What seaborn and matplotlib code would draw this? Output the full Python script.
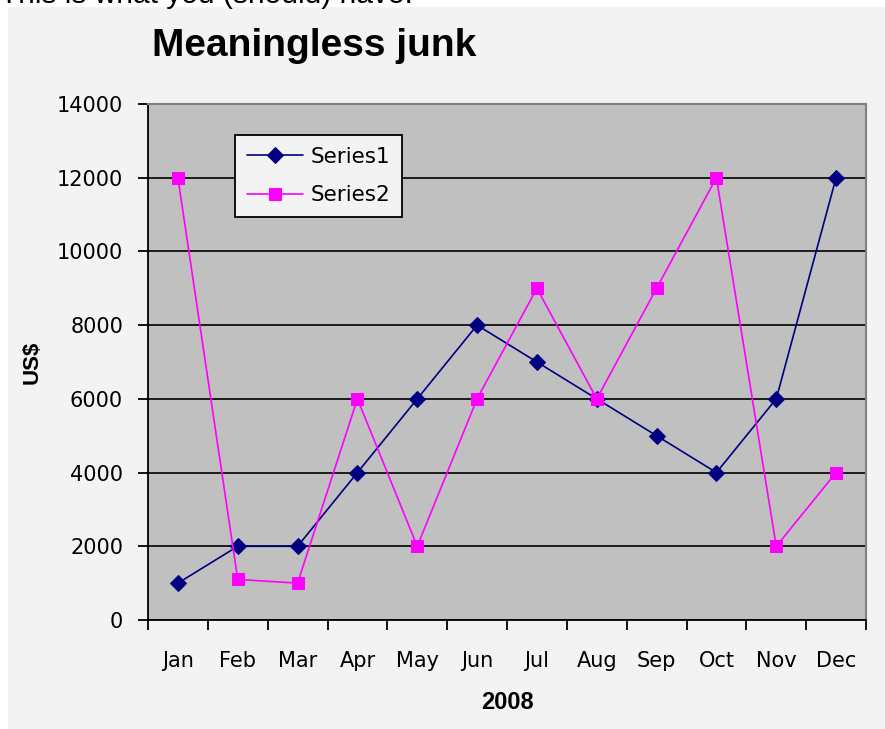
import matplotlib
matplotlib.use('Agg')
import matplotlib.pyplot as plt
import matplotlib.patches as mpatches
from matplotlib.ticker import FixedLocator, NullFormatter
import pandas as pd
import seaborn as sns

# Data
months = ['Jan', 'Feb', 'Mar', 'Apr', 'May', 'Jun', 'Jul', 'Aug', 'Sep', 'Oct', 'Nov', 'Dec']
series1 = [1000, 2000, 2000, 4000, 6000, 8000, 7000, 6000, 5000, 4000, 6000, 12000]
series2 = [12000, 1100, 1000, 6000, 2000, 6000, 9000, 6000, 9000, 12000, 2000, 4000]
yticks = [0, 2000, 4000, 6000, 8000, 10000, 12000, 14000]

df = pd.DataFrame({'month': months, 'Series1': series1, 'Series2': series2})

sns.set_style('white')
plt.rcParams['font.family'] = ['DejaVu Sans']
plt.rcParams['text.color'] = 'black'
plt.rcParams['axes.labelcolor'] = 'black'
plt.rcParams['xtick.color'] = 'black'
plt.rcParams['ytick.color'] = 'black'

W, H = 885, 729
fig = plt.figure(figsize=(W / 100, H / 100), dpi=100)
fig.patch.set_facecolor('white')

# light grey chart panel (white strip at left / top as in the screenshot)
fig.add_artist(mpatches.Rectangle((8 / W, 0), 1 - 8 / W, 1 - 7 / H, transform=fig.transFigure,
                                  facecolor='#f3f3f3', edgecolor='none', zorder=0))

# cut-off caption above the chart
fig.text(0.0, 1 - 3 / H, 'This is what you (should) have:', fontsize=21.5, va='baseline',
         ha='left', family='Liberation Sans')

ax = fig.add_axes([148 / W, 1 - 620 / H, (866 - 148) / W, (620 - 104) / H])
ax.set_facecolor('#c0c0c0')

sns.lineplot(data=df, x='month', y='Series1', ax=ax, color='#000080', lw=1.2, marker='D',
             markersize=8.5, markeredgecolor='#000080', label='Series1', sort=False)
sns.lineplot(data=df, x='month', y='Series2', ax=ax, color='#ff00ff', lw=1.2, marker='s',
             markersize=9, markeredgecolor='#ff00ff', label='Series2', sort=False)

ax.set_xlim(-0.5, len(months) - 0.5)
ax.set_ylim(0, 14000)
ax.set_yticks(yticks)
ax.set_yticklabels([str(t) for t in yticks])

# category ticks sit between months, labels in the middle
ax.xaxis.set_major_locator(FixedLocator([i - 0.5 for i in range(len(months) + 1)]))
ax.xaxis.set_major_formatter(NullFormatter())
ax.set_xticks(range(len(months)), labels=months, minor=True)
ax.tick_params(axis='x', which='major', direction='out', length=7, width=1.3, bottom=True)
ax.tick_params(axis='x', which='minor', length=0, pad=22, labelsize=15)
ax.tick_params(axis='y', direction='out', length=7, width=1.3, left=True, pad=11, labelsize=15)

ax.set_axisbelow(True)
ax.yaxis.grid(True, color='black', lw=1.2)
ax.xaxis.grid(False)

for side in ['left', 'bottom']:
    ax.spines[side].set_color('black')
    ax.spines[side].set_linewidth(1.3)
for side in ['top', 'right']:
    ax.spines[side].set_color('#808080')
    ax.spines[side].set_linewidth(1.5)
    ax.spines[side].set_visible(True)

ax.set_xlabel('2008', fontsize=17, fontweight='bold', labelpad=15, family='Liberation Sans')
ax.set_ylabel('US$', fontsize=16, fontweight='bold', labelpad=10, family='Liberation Sans')

fig.text(152 / W, 1 - 46 / H, 'Meaningless junk', fontsize=28, fontweight='bold', ha='left',
         va='center', family='Liberation Sans')

leg = ax.legend(loc='upper left', bbox_to_anchor=((235 - 148) / (866 - 148), (620 - 135) / (620 - 104)),
                borderaxespad=0, fontsize=15.5, frameon=True, fancybox=False, framealpha=1,
                borderpad=0.55, handlelength=2.6, handletextpad=0.35, labelspacing=0.85)
leg.get_frame().set_facecolor('#f3f3f3')
leg.get_frame().set_edgecolor('black')
leg.get_frame().set_linewidth(1.3)

fig.savefig('out.png', dpi=100, facecolor=fig.get_facecolor())
